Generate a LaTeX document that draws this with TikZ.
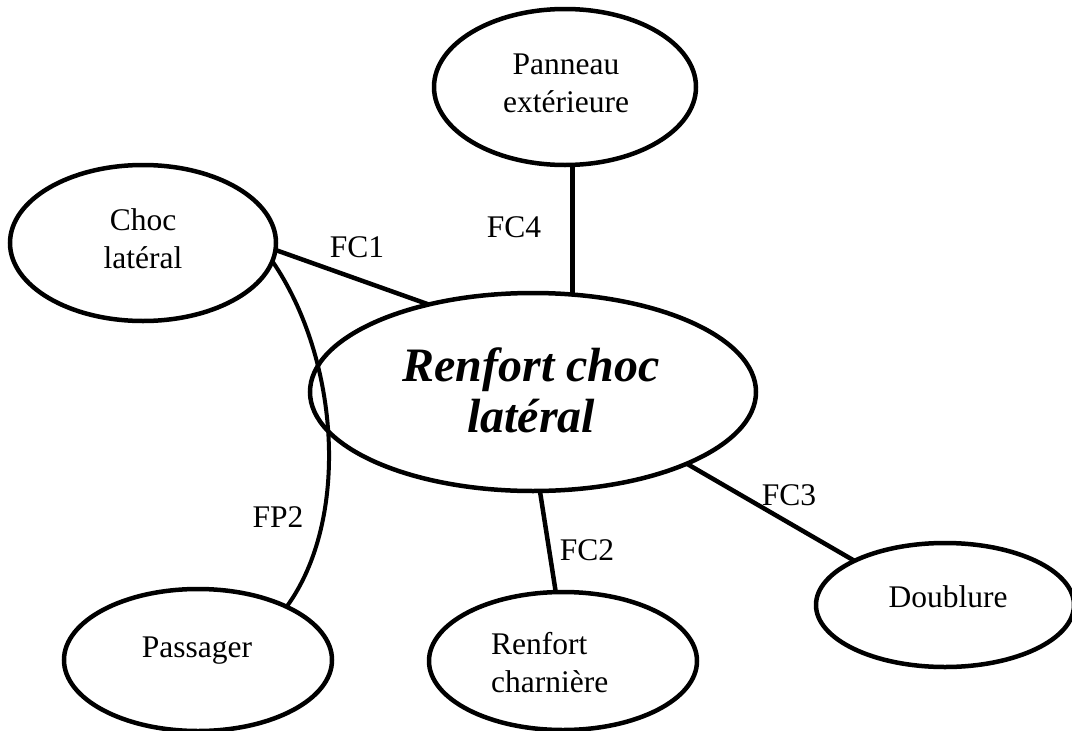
\documentclass[tikz,border=0pt]{standalone}
\usepackage{fontspec}
\setmainfont{Liberation Serif}
\usetikzlibrary{shapes.geometric}
\begin{document}
\begin{tikzpicture}[x=1pt,y=-1pt,
  bub/.style={draw=black, line width=4.5pt, ellipse, inner sep=0pt, outer sep=0pt},
  txt/.style={font=\fontsize{31.5}{38}\selectfont, inner sep=0pt},
  link/.style={draw=black, line width=4.5pt}]
\useasboundingbox (0,0) rectangle (1072,731);
% ellipses
\node[bub, minimum width=446pt, minimum height=198pt] (central) at (533,392) {};
\node[bub, minimum width=262pt, minimum height=156pt] (panneau) at (565,87) {};
\node[bub, minimum width=266pt, minimum height=156pt] (choc) at (143,243) {};
\node[bub, minimum width=268pt, minimum height=142pt] (passager) at (198,660) {};
\node[bub, minimum width=268pt, minimum height=138pt] (charniere) at (563,661) {};
\node[bub, minimum width=258pt, minimum height=124pt] (doublure) at (945,605) {};
% texts
\node[font=\fontsize{48}{51}\selectfont\bfseries\itshape, align=center, inner sep=0pt] (tcen) at (531,390) {Renfort choc\\latéral};
\node[txt, align=center] (tchoc) at (143,239) {Choc\\latéral};
\node[txt, align=center] (tpan) at (566,83) {Panneau\\extérieure};
\node[txt, align=left, anchor=west] (tcha) at (491,663) {Renfort\\charnière};
\node[txt, anchor=base] (tpas) at (197,657) {Passager};
\node[txt, anchor=base] (tdou) at (948,607) {Doublure};
% connectors
\draw[link] (choc.-3) -- (central.140);
\draw[link] (central.68.5) -- (central.68.5 |- panneau.south);
\draw[link] (central.-86) -- (charniere.96);
\draw[link] (central.-25) -- (doublure.154);
\draw[link, line width=4pt] (choc.-8) .. controls (340,360) and (350,520) .. (passager.31);
% labels
\node[txt, anchor=base] (lfc1) at (357,257) {FC1};
\node[txt, anchor=base] (lfc4) at (514,237) {FC4};
\node[txt, anchor=base] (lfp2) at (278,527) {FP2};
\node[txt, anchor=base] (lfc2) at (587,560) {FC2};
\node[txt, anchor=base] (lfc3) at (789,505) {FC3};
\end{tikzpicture}
\end{document}
